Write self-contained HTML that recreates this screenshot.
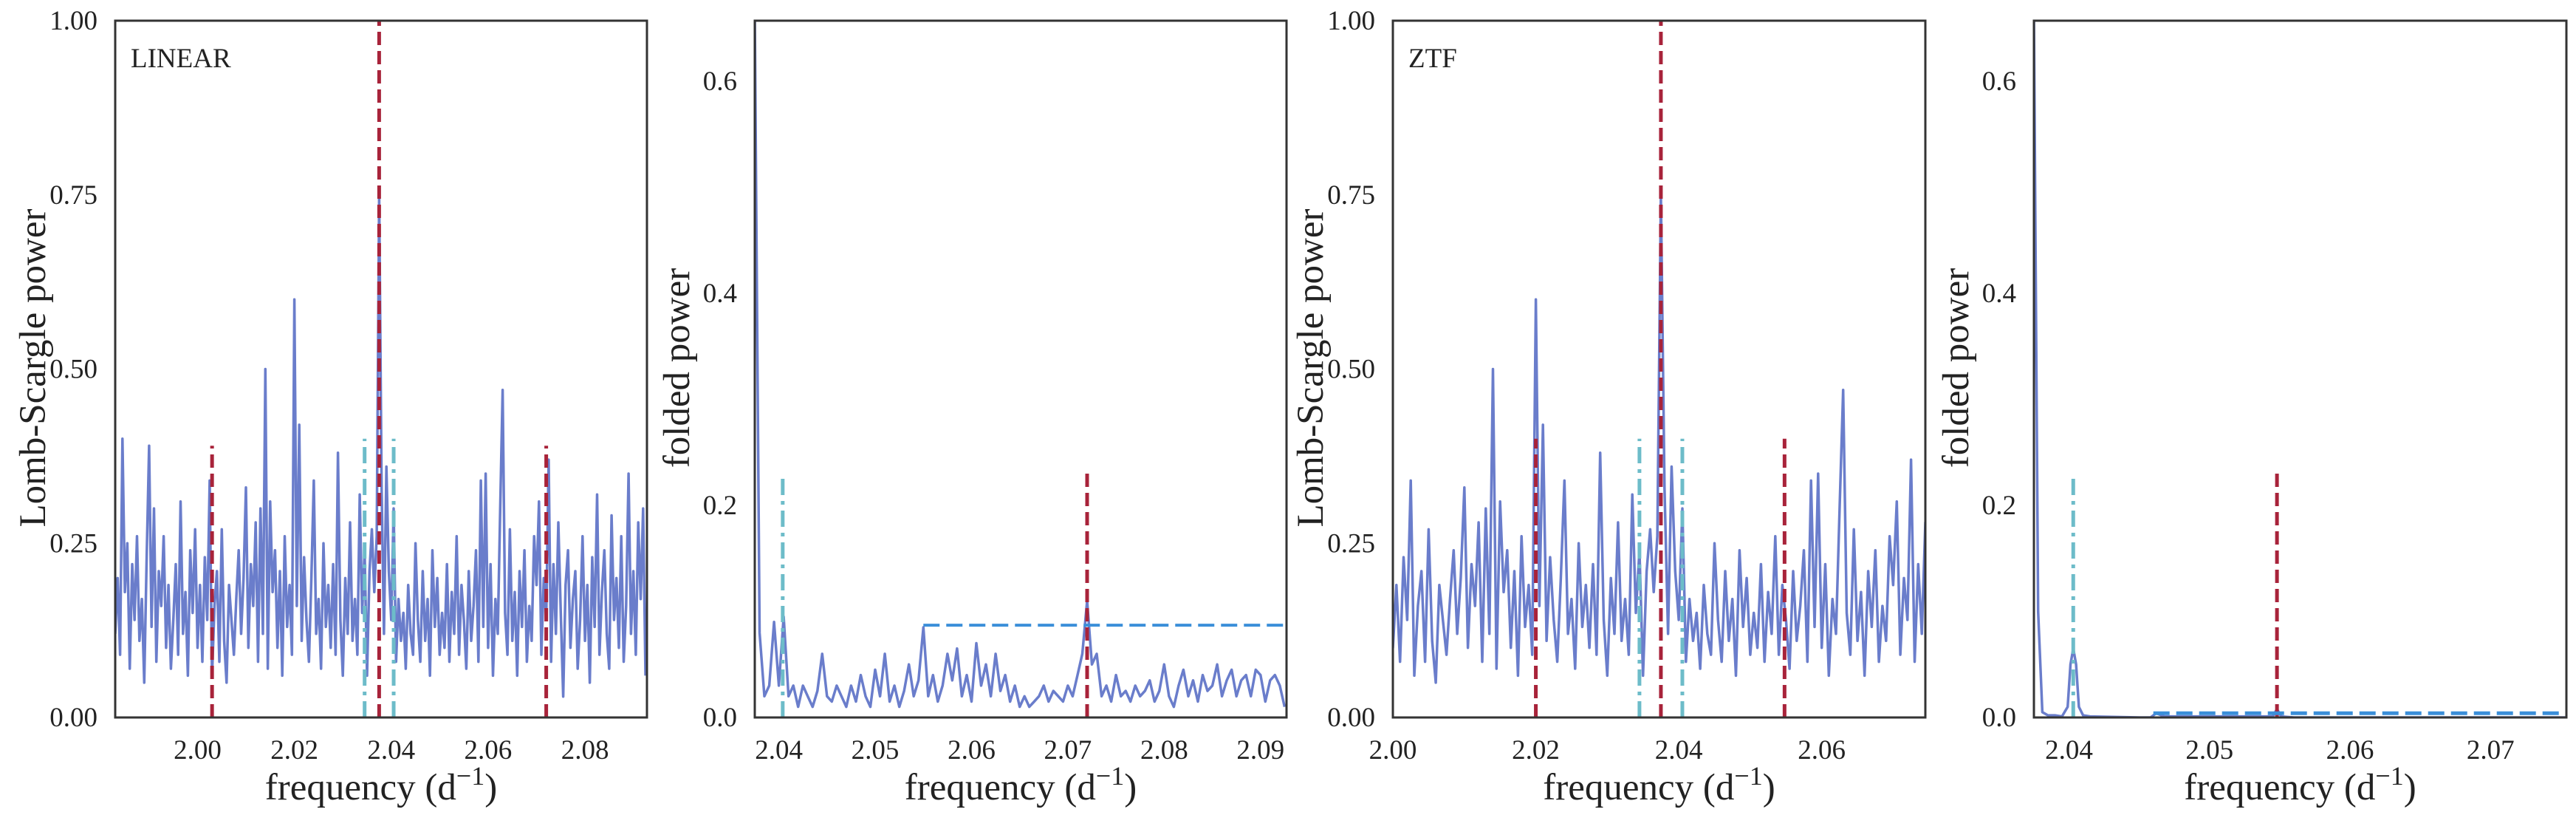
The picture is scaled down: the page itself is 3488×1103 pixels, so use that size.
<!DOCTYPE html>
<html><head><meta charset="utf-8"><style>
html,body{margin:0;padding:0;background:#fff;}
svg{display:block;font-family:"Liberation Serif",serif;}
</style></head><body>
<svg id="fig" width="3488" height="1103" viewBox="0 0 3488 1103" xmlns="http://www.w3.org/2000/svg"></svg>
<script>
// Lomb-Scargle power grid (shared by LINEAR and ZTF panels)
const lsStart = 1.983;
const lsStep = 0.0005;
const lsPower = [
0.12,0.20,0.09,0.40,0.18,0.25,0.07,0.22,0.14,0.26,0.11,0.17,0.05,0.23,0.39,0.13,0.30,0.08,0.21,0.16,
0.26,0.10,0.19,0.07,0.14,0.22,0.09,0.31,0.12,0.18,0.06,0.24,0.15,0.27,0.10,0.19,0.08,0.23,0.14,0.34,
0.06,0.16,0.21,0.08,0.27,0.11,0.05,0.19,0.14,0.09,0.17,0.24,0.12,0.20,0.33,0.10,0.22,0.16,0.28,0.08,
0.30,0.12,0.50,0.07,0.31,0.18,0.24,0.10,0.21,0.06,0.26,0.13,0.19,0.09,0.60,0.16,0.42,0.11,0.23,0.14,
0.08,0.20,0.34,0.12,0.17,0.07,0.25,0.13,0.19,0.10,0.22,0.09,0.38,0.14,0.06,0.20,0.12,0.28,0.11,0.17,
0.09,0.32,0.15,0.24,0.06,0.21,0.27,0.18,0.26,0.75,0.33,0.12,0.36,0.21,0.14,0.30,0.08,0.17,0.11,0.15,
0.07,0.19,0.12,0.09,0.25,0.14,0.08,0.21,0.11,0.17,0.06,0.24,0.13,0.20,0.09,0.15,0.10,0.22,0.08,0.18,
0.12,0.26,0.09,0.19,0.14,0.07,0.21,0.11,0.16,0.24,0.08,0.34,0.13,0.35,0.10,0.22,0.06,0.17,0.12,0.30,
0.47,0.15,0.09,0.27,0.11,0.18,0.06,0.21,0.13,0.24,0.08,0.16,0.11,0.26,0.19,0.31,0.09,0.20,0.14,0.37,
0.08,0.22,0.12,0.28,0.15,0.03,0.19,0.24,0.10,0.17,0.21,0.07,0.14,0.26,0.11,0.19,0.05,0.23,0.13,0.32,
0.09,0.18,0.24,0.12,0.07,0.29,0.14,0.20,0.10,0.26,0.08,0.16,0.35,0.12,0.21,0.09,0.28,0.17,0.30,0.06];
// LINEAR folded power
const fold1Start = 2.0375;
const fold1Step = 0.0005;
const fold1Power = [
0.66,0.08,0.02,0.03,0.09,0.03,0.095,0.02,0.03,0.01,
0.03,0.02,0.01,0.025,0.06,0.02,0.015,0.03,0.02,0.01,
0.03,0.015,0.04,0.02,0.01,0.045,0.02,0.06,0.015,0.03,
0.01,0.025,0.05,0.02,0.035,0.085,0.02,0.04,0.015,0.03,
0.06,0.035,0.065,0.02,0.04,0.015,0.07,0.03,0.05,0.02,
0.06,0.025,0.04,0.015,0.03,0.01,0.02,0.01,0.015,0.02,
0.03,0.015,0.025,0.02,0.015,0.03,0.02,0.04,0.06,0.11,
0.05,0.06,0.02,0.03,0.015,0.04,0.02,0.025,0.015,0.03,
0.02,0.025,0.035,0.015,0.025,0.05,0.02,0.01,0.03,0.045,
0.02,0.035,0.015,0.04,0.025,0.03,0.05,0.02,0.035,0.045,
0.02,0.035,0.04,0.02,0.045,0.04,0.015,0.035,0.04,0.03,0.01];
// ZTF folded power (sparse)
const fold2Freq = [2.0375,2.0378,2.0381,2.0385,2.039,2.0395,2.0399,2.0401,2.0403,2.0405,2.0407,2.041,2.0415,2.045,2.0458,2.0462,2.0468,2.0545,2.0548,2.0551,2.056,2.0754];
const fold2Power = [0.66,0.10,0.005,0.002,0.002,0.001,0.01,0.05,0.065,0.05,0.01,0.002,0.001,0.0,0.0,0.004,0.001,0.001,0.008,0.001,0.0,0.0];
// marker lines
const redLin = [2.003,2.0375,2.072];
const redLinH = [0.39,1.0,0.39];
const redZtf = [2.020,2.0375,2.0548];
const redZtfH = [0.40,1.0,0.40];
const cyanF = [2.0345,2.0405];
const cyanH = 0.40;
const foldCyan1 = 2.0404, foldRed1 = 2.072, foldMarkH = 0.23;
const thresh1 = 0.087, thresh1Start = 2.055;
const foldCyan2 = 2.0403, foldRed2 = 2.0548;
const thresh2 = 0.004, thresh2Start = 2.046;
const ticksLS = [0,0.25,0.5,0.75,1.0];
const ticksFold = [0,0.2,0.4,0.6];

const NS="http://www.w3.org/2000/svg";
const svg=document.getElementById('fig');
function mk(tag,attrs,parent){const e=document.createElementNS(NS,tag);for(const k in attrs)e.setAttribute(k,attrs[k]);(parent||svg).appendChild(e);return e;}

const panels=[
 {name:'linear-periodogram',x0:156,x1:876,xmin:1.983,xmax:2.0928,ymax:1.0,yt:ticksLS,yd:2,xt:[2.00,2.02,2.04,2.06,2.08],ylabel:'Lomb-Scargle power',tag:'LINEAR',lx:95},
 {name:'linear-folded',x0:1022,x1:1742,xmin:2.0375,xmax:2.0927,ymax:0.657,yt:ticksFold,yd:1,xt:[2.04,2.05,2.06,2.07,2.08,2.09],ylabel:'folded power',lx:89},
 {name:'ztf-periodogram',x0:1886,x1:2607,xmin:2.000,xmax:2.0745,ymax:1.0,yt:ticksLS,yd:2,xt:[2.00,2.02,2.04,2.06],ylabel:'Lomb-Scargle power',tag:'ZTF',lx:95},
 {name:'ztf-folded',x0:2754,x1:3475,xmin:2.0375,xmax:2.0754,ymax:0.657,yt:ticksFold,yd:1,xt:[2.04,2.05,2.06,2.07],ylabel:'folded power',lx:89}
];
const Y0=28,Y1=971;
const LINE='#6a7dcb',RED='#a8233a',CYAN='#6dbcc9',BLUE='#3b8fd9';

panels.forEach((p,pi)=>{
 const g=mk('g',{});
 
 
 const sx=v=>p.x0+(v-p.xmin)/(p.xmax-p.xmin)*(p.x1-p.x0);
 const sy=v=>Y1-v/p.ymax*(Y1-Y0);
 const cid='clip'+pi;
 const cp=mk('clipPath',{id:cid},g);mk('rect',{x:p.x0,y:Y0,width:p.x1-p.x0,height:Y1-Y0},cp);
 const plot=mk('g',{'clip-path':'url(#'+cid+')'},g);
 
 
 function vline(f,h,color,dash,nm){const l=mk('line',{x1:sx(f),x2:sx(f),y1:Y1,y2:sy(h),stroke:color,'stroke-width':5,'stroke-dasharray':dash},plot);
  
  }
 function path(xs,ys,color,nm){let d='';for(let i=0;i<xs.length;i++)d+=(i?'L':'M')+sx(xs[i]).toFixed(1)+','+sy(ys[i]).toFixed(1);
  const e=mk('path',{d:d,fill:'none',stroke:color,'stroke-width':3.5,'stroke-linejoin':'round'},plot);
  
  }
 if(pi===0||pi===2){
  const xs=lsPower.map((_,i)=>lsStart+i*lsStep);
  path(xs,lsPower,LINE,'power-spectrum-line');
  cyanF.forEach(f=>vline(f,cyanH,CYAN,'22,8,5,8','harmonic-marker'));
  const rf=pi===0?redLin:redZtf, rh=pi===0?redLinH:redZtfH;
  rf.forEach((f,i)=>vline(f,rh[i],RED,'18,8','frequency-marker'));
 } else if(pi===1){
  const xs=fold1Power.map((_,i)=>fold1Start+i*fold1Step);
  path(xs,fold1Power,LINE,'folded-power-line');
  vline(foldCyan1,foldMarkH,CYAN,'22,8,5,8','harmonic-marker');
  vline(foldRed1,foldMarkH,RED,'18,8','frequency-marker');
  const t=mk('line',{x1:sx(thresh1Start),x2:p.x1,y1:sy(thresh1),y2:sy(thresh1),stroke:BLUE,'stroke-width':4,'stroke-dasharray':'22,9'},plot);
  
  
 } else {
  path(fold2Freq,fold2Power,LINE,'folded-power-line');
  vline(foldCyan2,foldMarkH,CYAN,'22,8,5,8','harmonic-marker');
  vline(foldRed2,foldMarkH,RED,'18,8','frequency-marker');
  const t=mk('line',{x1:sx(thresh2Start),x2:p.x1,y1:sy(thresh2),y2:sy(thresh2),stroke:BLUE,'stroke-width':5,'stroke-dasharray':'22,9'},plot);
  
  
 }
 const fr=mk('rect',{x:p.x0,y:Y0,width:p.x1-p.x0,height:Y1-Y0,fill:'none',stroke:'#333','stroke-width':3},g);
 
 
 p.yt.forEach(v=>{const t=mk('text',{x:p.x0-24,y:sy(v)+12,'text-anchor':'end','font-size':37,fill:'#222'},g);t.textContent=v.toFixed(p.yd);
  
  });
 p.xt.forEach(v=>{const t=mk('text',{x:sx(v),y:Y1+56,'text-anchor':'middle','font-size':37,fill:'#222'},g);t.textContent=v.toFixed(2);
  
  });
 const xl=mk('text',{x:(p.x0+p.x1)/2,y:1082,'text-anchor':'middle','font-size':51,fill:'#222'},g);
 xl.innerHTML='frequency (d<tspan font-size="36" dy="-20">−1</tspan><tspan dy="20">)</tspan>';
 
 
 const yx=p.x0-p.lx, yy=498;
 const yl=mk('text',{x:yx,y:yy,'text-anchor':'middle','font-size':51,fill:'#222',transform:'rotate(-90 '+yx+' '+yy+')'},g);
 yl.textContent=p.ylabel;
 
 
 if(p.tag){const t=mk('text',{x:p.x0+21,y:91,'font-size':37,fill:'#222'},g);t.textContent=p.tag;
  
  }
});
</script>
</body></html>
